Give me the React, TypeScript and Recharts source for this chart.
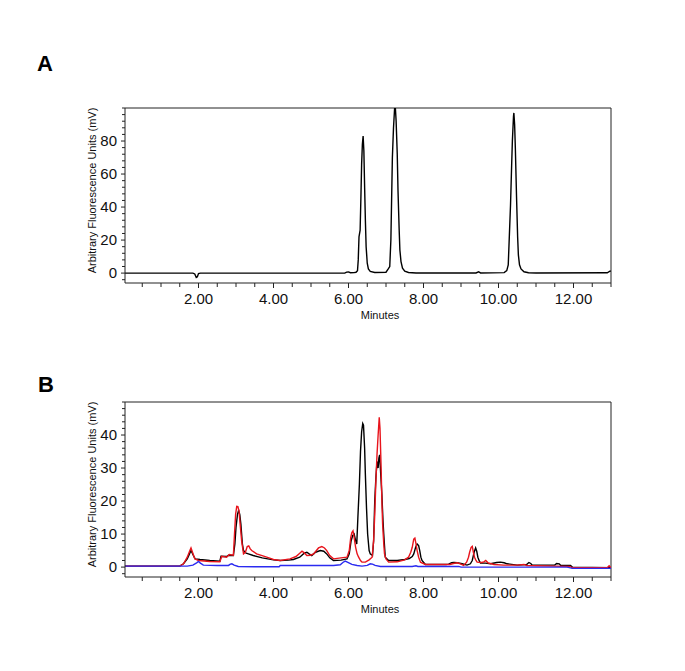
import { Label, Line, LineChart, ReferenceLine, XAxis, YAxis } from "recharts";

const FONT = "'Liberation Sans', Arial, Helvetica, sans-serif";

// minutes axis, shared by both panels
const xTicks = [0.5, 1, 1.5, 2, 2.5, 3, 3.5, 4, 4.5, 5, 5.5, 6, 6.5, 7, 7.5, 8, 8.5, 9, 9.5, 10, 10.5, 11, 11.5, 12, 12.5, 13];
const xLabels = [2, 4, 6, 8, 10, 12];

const yTicksA = [-4, 0, 4, 8, 12, 16, 20, 24, 28, 32, 36, 40, 44, 48, 52, 56, 60, 64, 68, 72, 76, 80, 84, 88, 92, 96, 100];
const yLabelsA = [0, 20, 40, 60, 80];
const yTicksB = [-2, 0, 2, 4, 6, 8, 10, 12, 14, 16, 18, 20, 22, 24, 26, 28, 30, 32, 34, 36, 38, 40, 42, 44, 46, 48, 50];
const yLabelsB = [0, 10, 20, 30, 40];

// panel A: standards trace [minutes, mV]
const traceA: [number, number][] = [
  [0.04, 0], [1.85, 0], [1.9, -0.5], [1.94, -2.6], [1.97, -2.2], [2.0, -0.3], [2.05, 0],
  [5.9, 0], [5.95, 0.6], [6.0, 0.7], [6.05, 0.2], [6.15, 0.3],
  [6.2, 0.5], [6.24, 1.5], [6.26, 8], [6.28, 22], [6.31, 26], [6.33, 45], [6.35, 66], [6.37, 78],
  [6.39, 83], [6.41, 74], [6.43, 52], [6.45, 32], [6.47, 16], [6.5, 6], [6.53, 2.5], [6.58, 1], [6.7, 0.4],
  [7.0, 0.5], [7.06, 2.5], [7.1, 4], [7.13, 20], [7.15, 45], [7.17, 70], [7.2, 88], [7.23, 100],
  [7.25, 100], [7.27, 92], [7.3, 72], [7.32, 50], [7.35, 27], [7.37, 14], [7.4, 7], [7.44, 3],
  [7.5, 1.2], [7.6, 0.4], [7.8, 0.1],
  [9.4, 0.1], [9.47, 0.8], [9.52, 0.1],
  [10.15, 0.3], [10.22, 1.5], [10.26, 5], [10.29, 23], [10.32, 41], [10.35, 65], [10.37, 80], [10.4, 95],
  [10.41, 97], [10.43, 90], [10.45, 75], [10.48, 47], [10.51, 22], [10.53, 11], [10.56, 5], [10.6, 2.5],
  [10.68, 0.8], [10.8, 0.2], [11.0, 0.1],
  [12.9, 0.2], [12.97, 1.2], [13.0, 1.2],
];

// panel B: three sample traces [minutes, mV]
const blackB: [number, number][] = [
  [0.04, 0.3], [1.5, 0.3], [1.6, 1], [1.7, 2.5], [1.76, 4], [1.8, 5.1], [1.85, 3.8], [1.91, 2.5],
  [2.04, 2.3], [2.3, 2.0], [2.57, 1.8], [2.6, 3.3], [2.75, 3.2], [2.8, 3.6], [2.93, 3.5], [2.97, 7],
  [3.0, 12], [3.04, 16], [3.07, 17.2], [3.1, 16], [3.13, 13], [3.17, 7], [3.2, 5], [3.27, 4.2],
  [3.33, 4], [3.46, 3.5], [3.7, 2.8], [4.0, 2.2], [4.18, 2.0], [4.4, 2.1], [4.53, 2.3], [4.7, 3],
  [4.82, 4.2], [4.89, 4.5], [4.95, 4], [5.02, 3.5], [5.12, 4.5], [5.25, 5.0], [5.34, 4.8], [5.42, 4],
  [5.5, 2.8], [5.6, 2], [5.8, 2.1], [5.96, 2.5], [6.02, 4], [6.07, 8], [6.11, 9.5], [6.15, 10],
  [6.19, 8], [6.22, 7], [6.25, 15], [6.29, 25], [6.32, 35], [6.35, 41], [6.38, 43.5], [6.4, 43],
  [6.43, 36], [6.45, 28], [6.48, 18], [6.51, 10], [6.55, 5], [6.58, 4], [6.64, 3.5], [6.67, 8],
  [6.7, 20], [6.73, 27], [6.76, 32], [6.79, 30], [6.81, 33], [6.83, 34], [6.86, 28], [6.89, 22],
  [6.92, 14], [6.94, 10], [6.98, 3], [7.07, 2.0], [7.3, 2.0], [7.5, 2.3], [7.62, 2.6], [7.7, 3.2],
  [7.74, 4], [7.79, 6], [7.83, 7], [7.87, 6.5], [7.9, 5], [7.93, 3], [7.96, 2], [8.05, 0.8],
  [8.6, 0.8], [8.67, 0.9], [8.75, 1.3], [8.81, 1.4], [8.9, 1.3], [9.03, 1.0], [9.16, 0.6], [9.25, 1.0],
  [9.3, 2], [9.35, 4.5], [9.39, 5.8], [9.42, 4.8], [9.45, 3], [9.49, 1.8], [9.52, 1.2], [9.65, 1.2],
  [9.79, 1.0], [9.95, 1.4], [10.05, 1.5], [10.15, 1.3], [10.23, 1.0], [10.5, 0.6], [10.75, 0.8],
  [10.81, 1.4], [10.86, 1.1], [10.9, 0.6], [11.5, 0.6], [11.55, 1.1], [11.62, 1.0], [11.66, 0.5],
  [11.92, 0.5], [11.97, 0], [12.5, -0.1], [13.0, -0.2],
];

const redB: [number, number][] = [
  [0.04, 0.3], [1.5, 0.3], [1.6, 1], [1.7, 3], [1.77, 5], [1.8, 5.8], [1.84, 4.5], [1.9, 2.5],
  [2.0, 2.0], [2.3, 1.7], [2.57, 1.6], [2.62, 3.3], [2.75, 3.0], [2.82, 3.8], [2.93, 3.6], [2.96, 10],
  [2.99, 16], [3.02, 18.4], [3.05, 18.3], [3.08, 17], [3.11, 13], [3.15, 8], [3.2, 4], [3.25, 4.5],
  [3.3, 6.2], [3.34, 6.4], [3.38, 5.5], [3.42, 5], [3.55, 4], [3.82, 3], [4.0, 2.3], [4.18, 2.0],
  [4.44, 2.5], [4.6, 3.2], [4.7, 4.2], [4.76, 4.8], [4.82, 4.3], [4.89, 3.5], [4.98, 3.6], [5.07, 4],
  [5.2, 5.8], [5.29, 6.2], [5.36, 5.8], [5.42, 5], [5.5, 3.5], [5.6, 2.5], [5.8, 2.8], [5.96, 3],
  [6.02, 5], [6.06, 9], [6.09, 10.5], [6.12, 11], [6.15, 9], [6.19, 6], [6.23, 4], [6.27, 3],
  [6.32, 2], [6.36, 1.5], [6.45, 1.5], [6.55, 2.2], [6.63, 3], [6.67, 8], [6.7, 16], [6.73, 26],
  [6.76, 34], [6.79, 40], [6.82, 45.4], [6.84, 42], [6.87, 30], [6.89, 20], [6.91, 13], [6.94, 7],
  [6.96, 4], [7.0, 2.5], [7.07, 1.5], [7.3, 1.6], [7.5, 2.2], [7.6, 3], [7.66, 4.5], [7.7, 6],
  [7.74, 8.5], [7.77, 8.8], [7.8, 7], [7.83, 5], [7.87, 3], [7.92, 1.5], [8.05, 0.8], [8.7, 0.8],
  [8.8, 1.1], [8.9, 1.3], [9.0, 0.9], [9.07, 0.5], [9.15, 1.5], [9.2, 3], [9.23, 4.5], [9.27, 6],
  [9.3, 6.3], [9.33, 4.5], [9.36, 3], [9.4, 2], [9.43, 1.5], [9.55, 1.4], [9.61, 1.6], [9.66, 2],
  [9.72, 1.3], [9.88, 0.8], [10.14, 0.6], [10.5, 0.6], [10.68, 0.8], [10.75, 0.5], [11.0, 0.4],
  [11.5, 0.3], [11.9, 0.2], [11.97, -0.2], [12.5, -0.2], [12.9, -0.2], [12.95, 0.4], [13.0, -0.2],
];

const blueB: [number, number][] = [
  [0.04, 0.3], [1.7, 0.3], [1.85, 0.6], [1.95, 1.3], [2.0, 1.7], [2.05, 1.2], [2.13, 0.6], [2.5, 0.5],
  [2.8, 0.5], [2.85, 0.9], [2.89, 1.0], [2.95, 0.6], [3.06, 0.2], [3.5, 0.1], [4.15, 0.1], [4.18, 0.5],
  [5.0, 0.5], [5.6, 0.5], [5.78, 0.7], [5.85, 1.4], [5.91, 1.8], [5.97, 1.5], [6.09, 0.8], [6.23, 0.5],
  [6.36, 0.3], [6.5, 0.5], [6.58, 1.0], [6.64, 0.9], [6.71, 0.5], [6.85, 0.2], [7.7, 0.2], [7.8, 0.4],
  [7.85, 0.2], [8.94, 0.2], [9.0, 0.0], [11.83, 0.0], [11.97, -0.4], [13.0, -0.4],
];

const toRows = (pts: [number, number][]) => pts.map(([t, v]) => ({ t, v }));

const makeXTick = (labels: number[]) => (props: any) => {
  const { x, y, payload } = props;
  const major = labels.includes(payload.value);
  return (
    <g>
      <line x1={x} x2={x} y1={y} y2={y + (major ? 5 : 4)} stroke="#222" />
      {major && (
        <text x={x} y={y + 21} textAnchor="middle" fontSize={15} fill="#111" fontFamily={FONT}>
          {payload.value.toFixed(2)}
        </text>
      )}
    </g>
  );
};

const makeYTick = (labels: number[]) => (props: any) => {
  const { x, y, payload } = props;
  const major = labels.includes(payload.value);
  return (
    <g>
      <line x1={x - (major ? 4 : 3)} x2={x} y1={y} y2={y} stroke="#222" />
      {major && (
        <text x={x - 8} y={y + 5} textAnchor="end" fontSize={15} fill="#111" fontFamily={FONT}>
          {payload.value}
        </text>
      )}
    </g>
  );
};

const MinutesTitle = (props: any) => {
  const vb = props.viewBox || {};
  return (
    <text x={vb.x + 255} y={vb.y + 36} textAnchor="middle" fontSize={11} fill="#111" fontFamily={FONT}>
      Minutes
    </text>
  );
};

const YTitle = (props: any) => {
  const vb = props.viewBox || {};
  const cx = vb.x + 7;
  const cy = vb.y + vb.height / 2 - 5;
  return (
    <text
      x={cx}
      y={cy}
      transform={`rotate(-90 ${cx} ${cy})`}
      textAnchor="middle"
      dominantBaseline="central"
      fontSize={11}
      fill="#111"
      fontFamily={FONT}
    >
      Arbitrary Fluorescence Units (mV)
    </text>
  );
};

type Series = { pts: [number, number][]; color: string };

function Panel(props: {
  height: number;
  margin: { top: number; right: number; bottom: number; left: number };
  yDomain: [number, number];
  yTicks: number[];
  yLabels: number[];
  series: Series[];
}) {
  const { height, margin, yDomain, yTicks, yLabels, series } = props;
  return (
    <LineChart width={685} height={height} margin={margin}>
      <XAxis
        type="number"
        dataKey="t"
        domain={[0.04, 13]}
        allowDataOverflow
        ticks={xTicks}
        interval={0}
        tickSize={0}
        tickMargin={0}
        tickLine={false}
        tick={makeXTick(xLabels)}
        axisLine={{ stroke: "#222" }}
        height={40}
      >
        <Label content={MinutesTitle} />
      </XAxis>
      <YAxis
        type="number"
        dataKey="v"
        domain={yDomain}
        allowDataOverflow
        ticks={yTicks}
        interval={0}
        tickSize={0}
        tickMargin={0}
        tickLine={false}
        tick={makeYTick(yLabels)}
        axisLine={{ stroke: "#222" }}
        width={40}
      >
        <Label content={YTitle} />
      </YAxis>
      <ReferenceLine y={yDomain[1]} stroke="#222" />
      <ReferenceLine x={13} stroke="#222" />
      {series.map((s, i) => (
        <Line
          key={i}
          data={toRows(s.pts)}
          dataKey="v"
          type="linear"
          stroke={s.color}
          strokeWidth={1.4}
          dot={false}
          activeDot={false}
          isAnimationActive={false}
        />
      ))}
    </LineChart>
  );
}

export default function App() {
  return (
    <div style={{ position: "absolute", left: 0, top: 0, width: 685, height: 671, background: "#fff" }}>
      <svg width={685} height={671} style={{ position: "absolute", left: 0, top: 0 }}>
        <text x={37} y={71} fontSize={22} fontWeight="bold" fontFamily={FONT} fill="#000">A</text>
        <text x={38} y={392} fontSize={22} fontWeight="bold" fontFamily={FONT} fill="#000">B</text>
      </svg>
      <div style={{ position: "absolute", left: 0, top: 0 }}>
        <Panel
          height={330}
          margin={{ top: 108, right: 74, bottom: 7, left: 85 }}
          yDomain={[-6, 100]}
          yTicks={yTicksA}
          yLabels={yLabelsA}
          series={[{ pts: traceA, color: "#000" }]}
        />
      </div>
      <div style={{ position: "absolute", left: 0, top: 330 }}>
        <Panel
          height={341}
          margin={{ top: 72, right: 74, bottom: 54, left: 85 }}
          yDomain={[-3, 50]}
          yTicks={yTicksB}
          yLabels={yLabelsB}
          series={[
            { pts: blackB, color: "#000" },
            { pts: redB, color: "#e8141c" },
            { pts: blueB, color: "#2b2bf0" },
          ]}
        />
      </div>
    </div>
  );
}
